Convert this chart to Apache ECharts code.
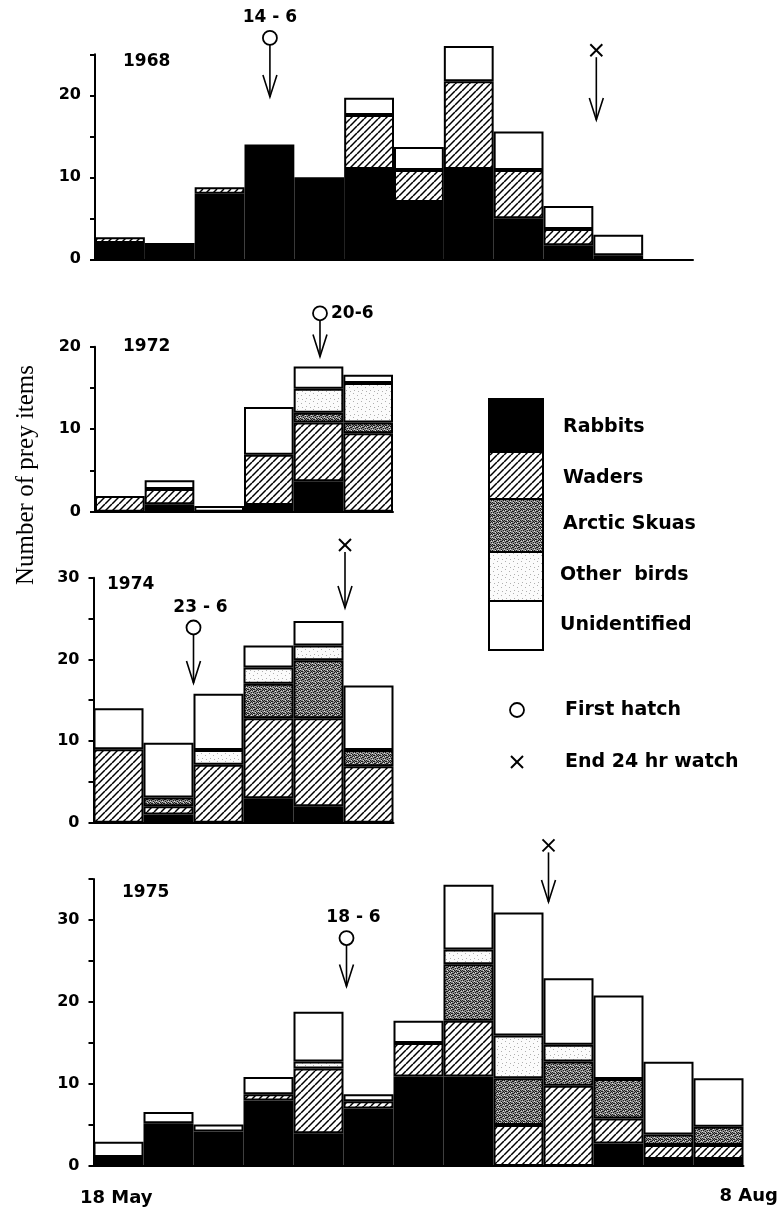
<!DOCTYPE html>
<html>
<head>
<meta charset="utf-8">
<script src="https://cdn.jsdelivr.net/npm/echarts@6/dist/echarts.min.js"></script>
<style>
html,body{margin:0;padding:0;background:#fff}
#chart{width:780px;height:1209px}
</style>
</head>
<body>
<div id="chart"></div>
<script>
// weekly bins, 18 May onwards
const weeks = ['w1','w2','w3','w4','w5','w6','w7','w8','w9','w10','w11','w12','w13']
const prey = ['Rabbits','Waders','Arctic Skuas','Other  birds','Unidentified']
const endLabels = ['18 May','8 Aug']

// 1968
const rabbits68 = [2, 2, 8, 14, 10, 11, 7, 11, 5, 1.7, 0.5, 0]
const waders68  = [0.7, 0, 0.8, 0, 0, 6.6, 3.9, 10.7, 5.9, 2, 0, 0]
const skuas68   = [0, 0, 0, 0, 0, 0, 0, 0, 0, 0, 0, 0]
const other68   = [0, 0, 0, 0, 0, 0, 0, 0, 0, 0, 0, 0]
const unid68    = [0, 0, 0, 0, 0, 2.1, 2.8, 4.3, 4.7, 2.8, 2.5, 0]
// 1972
const rabbits72 = [0, 0.9, 0, 0.8, 3.7, 0]
const waders72  = [1.9, 1.85, 0, 6.1, 7.1, 9.5]
const skuas72   = [0, 0, 0, 0, 1.2, 1.3]
const other72   = [0, 0, 0, 0, 2.9, 4.8]
const unid72    = [0, 1.05, 0.7, 5.8, 2.7, 1.0]
// 1974
const rabbits74 = [0, 1, 0, 3, 2, 0]
const waders74  = [9, 1, 7.1, 9.8, 10.8, 6.9]
const skuas74   = [0, 1.1, 0, 4.2, 7.1, 2]
const other74   = [0, 0, 1.8, 2, 1.8, 0]
const unid74    = [5, 6.7, 6.9, 2.7, 3, 7.9]
// 1975
const rabbits75 = [1.1, 5.2, 4.2, 8, 4, 7, 10.9, 10.9, 0, 0, 2.75, 0.85, 0.85]
const waders75  = [0, 0, 0, 0.75, 7.9, 0.9, 4.1, 6.8, 5, 9.8, 3.05, 1.7, 1.7]
const skuas75   = [0, 0, 0, 0, 0, 0, 0, 6.9, 5.7, 2.95, 4.8, 1.3, 2.25]
const other75   = [0, 0, 0, 0, 0.85, 0, 0, 1.8, 5.2, 2.05, 0, 0, 0]
const unid75    = [1.85, 1.4, 0.86, 2.1, 6.05, 0.85, 2.7, 7.9, 15, 8.1, 10.2, 8.85, 5.9]

// first hatch / end of 24 hr watch (position in bins, y in axis units)
const hatchMarks = [
  {p: 0, at: 3.51, y: 27.0, tip: 19.8, text: '14 - 6'},
  {p: 1, at: 4.53, y: 24.05, tip: 18.8, text: '20-6'},
  {p: 2, at: 2.0, y: 23.9, tip: 17.1, text: '23 - 6'},
  {p: 3, at: 5.06, y: 27.8, tip: 21.9, text: '18 - 6'}
]
const watchMarks = [
  {p: 0, at: 10.06, y: 25.5, tip: 17.0},
  {p: 2, at: 5.03, y: 34.0, tip: 26.3},
  {p: 3, at: 9.1, y: 39.1, tip: 32.2}
]

const panels = [
  {year: '1968', n: 12, max: 25, left: 95, top: 54.3, width: 598, height: 205, yl: [123, 62],
    data: [rabbits68, waders68, skuas68, other68, unid68]},
  {year: '1972', n: 6, max: 20, left: 95, top: 346.7, width: 298, height: 165, yl: [123, 347],
    data: [rabbits72, waders72, skuas72, other72, unid72]},
  {year: '1974', n: 6, max: 30, left: 93.5, top: 577.7, width: 300, height: 245, yl: [107, 585],
    data: [rabbits74, waders74, skuas74, other74, unid74]},
  {year: '1975', n: 13, max: 35, left: 93.5, top: 879, width: 650, height: 287, yl: [122, 893],
    data: [rabbits75, waders75, skuas75, other75, unid75]}
]

// small canvas textures for the fills
function makeTile(size, draw) {
  const c = document.createElement('canvas')
  c.width = size
  c.height = size
  draw(c.getContext('2d'))
  return {image: c, repeat: 'repeat'}
}
const hatch = makeTile(7, ctx => {
  ctx.fillStyle = '#fff'
  ctx.fillRect(0, 0, 7, 7)
  ctx.strokeStyle = '#000'
  ctx.lineWidth = 1.5
  ;[-7, 0, 7].forEach(k => {
    ctx.beginPath()
    ctx.moveTo(k, 7)
    ctx.lineTo(k + 7, 0)
    ctx.stroke()
  })
})
const darkDots = makeTile(6, ctx => {
  ctx.fillStyle = '#8c8c8c'
  ctx.fillRect(0, 0, 6, 6)
  ctx.fillStyle = '#1a1a1a'
  ;[[0,0],[2,1],[4,0],[1,2],[3,3],[5,2],[0,4],[2,5],[4,4],[5,5],[1,5],[3,1]].forEach(p => ctx.fillRect(p[0], p[1], 1, 1))
  ctx.fillStyle = '#e0e0e0'
  ;[[1,0],[5,1],[3,4],[0,3]].forEach(p => ctx.fillRect(p[0], p[1], 1, 1))
})
const lightDots = makeTile(8, ctx => {
  ctx.fillStyle = '#fbfbfb'
  ctx.fillRect(0, 0, 8, 8)
  ctx.fillStyle = '#b0b0b0'
  ;[[1,1],[5,3],[2,6],[6,7]].forEach(p => ctx.fillRect(p[0], p[1], 1, 1))
})
const fills = ['#000', hatch, darkDots, lightDots, '#fff']

const boldFont = '"DejaVu Sans", sans-serif'

const grids = [], xAxes = [], yAxes = [], series = []
panels.forEach((pn, i) => {
  grids.push({left: pn.left, top: pn.top, width: pn.width, height: pn.height, outerBoundsMode: 'none'})
  xAxes.push({
    type: 'category', gridIndex: i, data: weeks.slice(0, pn.n), boundaryGap: true,
    axisLine: {lineStyle: {color: '#000', width: 2}},
    axisTick: {length: 5, lineStyle: {color: '#000', width: 2}},
    axisLabel: {show: false}
  })
  yAxes.push({
    type: 'value', gridIndex: i, min: 0, max: pn.max, interval: 5,
    splitLine: {show: false},
    axisLine: {show: true, lineStyle: {color: '#000', width: 2}},
    axisTick: {show: true, length: 5, lineStyle: {color: '#000', width: 2}},
    axisLabel: {
      margin: 14, color: '#000', fontFamily: boldFont, fontWeight: 'bold', fontSize: 16,
      formatter: v => (v % 10 === 0 ? String(v) : '')
    }
  })
  pn.data.forEach((vals, k) => {
    series.push({
      type: 'bar', name: prey[k], xAxisIndex: i, yAxisIndex: i, stack: 's' + i,
      barWidth: '100%', barCategoryGap: '0%', silent: true, clip: false,
      data: vals.map(v => (v > 0 ? v : '-')),
      itemStyle: {color: fills[k], borderColor: '#000', borderWidth: 2}
    })
  })
})

const chart = echarts.init(document.getElementById('chart'), null, {renderer: 'canvas'})
chart.setOption({
  animation: false,
  backgroundColor: '#fff',
  grid: grids,
  xAxis: xAxes,
  yAxis: yAxes,
  series: series
})

//标注：箭头、图例和文字
const g = []
const line = (x1, y1, x2, y2, w) => ({type: 'line', shape: {x1, y1, x2, y2}, style: {stroke: '#000', lineWidth: w || 1.6}, silent: true})
const txt = (x, y, text, size, align, extra) => ({
  type: 'text', x, y, silent: true,
  style: Object.assign({text, fill: '#000', font: 'bold ' + size + 'px ' + boldFont, textAlign: align || 'left', textVerticalAlign: 'middle'}, extra || {})
})
const px = (p, at) => panels[p].left + at * panels[p].width / panels[p].n
const py = (p, v) => chart.convertToPixel({yAxisIndex: p}, v)

function arrowHead(x, tip) {
  return {type: 'polyline', shape: {points: [[x - 7, tip - 22], [x, tip], [x + 7, tip - 22]]}, style: {stroke: '#000', lineWidth: 1.6, fill: null}, silent: true}
}

hatchMarks.forEach(m => {
  const x = px(m.p, m.at), cy = py(m.p, m.y), tip = py(m.p, m.tip)
  g.push(line(x, cy + 7, x, tip))
  g.push(arrowHead(x, tip))
  g.push({type: 'circle', shape: {cx: x, cy: cy, r: 7}, style: {fill: '#fff', stroke: '#000', lineWidth: 1.8}, silent: true})
  if (m.p === 1) g.push(txt(x + 11, cy, m.text, 17, 'left'))
  else g.push(txt(x + (m.p === 0 ? 0 : 7), cy - 20, m.text, 17, 'center'))
})
watchMarks.forEach(m => {
  const x = px(m.p, m.at), cy = py(m.p, m.y), tip = py(m.p, m.tip)
  g.push(line(x - 6, cy - 6, x + 6, cy + 6, 2))
  g.push(line(x - 6, cy + 6, x + 6, cy - 6, 2))
  g.push(line(x, cy + 7, x, tip))
  g.push(arrowHead(x, tip))
})

panels.forEach(pn => g.push(txt(pn.yl[0], pn.yl[1], pn.year, 17, 'left')))

// legend boxes
const boxY = [399, 452, 499, 552, 601, 650]
const labY = [427, 478, 524, 575, 625]
prey.forEach((name, k) => {
  g.push({type: 'rect', shape: {x: 489, y: boxY[k], width: 54, height: boxY[k + 1] - boxY[k]},
    style: {fill: fills[k], stroke: '#000', lineWidth: 2}, silent: true})
  g.push(txt(k < 3 ? 563 : 560, labY[k], name, 19, 'left'))
})
g.push({type: 'circle', shape: {cx: 517, cy: 710, r: 7}, style: {fill: '#fff', stroke: '#000', lineWidth: 1.8}, silent: true})
g.push(txt(565, 710, 'First hatch', 19, 'left'))
g.push(line(511, 756, 523, 768, 2))
g.push(line(511, 768, 523, 756, 2))
g.push(txt(565, 762, 'End 24 hr watch', 19, 'left'))

// axis end labels and y title
g.push(txt(80, 1198, endLabels[0], 18, 'left'))
g.push(txt(778, 1196, endLabels[1], 18, 'right'))
g.push({type: 'text', x: 26, y: 475, rotation: Math.PI / 2, silent: true,
  style: {text: 'Number of prey items', fill: '#000', font: '25px "Liberation Serif", serif', textAlign: 'center', textVerticalAlign: 'middle'}})

chart.setOption({graphic: g})
</script>
</body>
</html>
